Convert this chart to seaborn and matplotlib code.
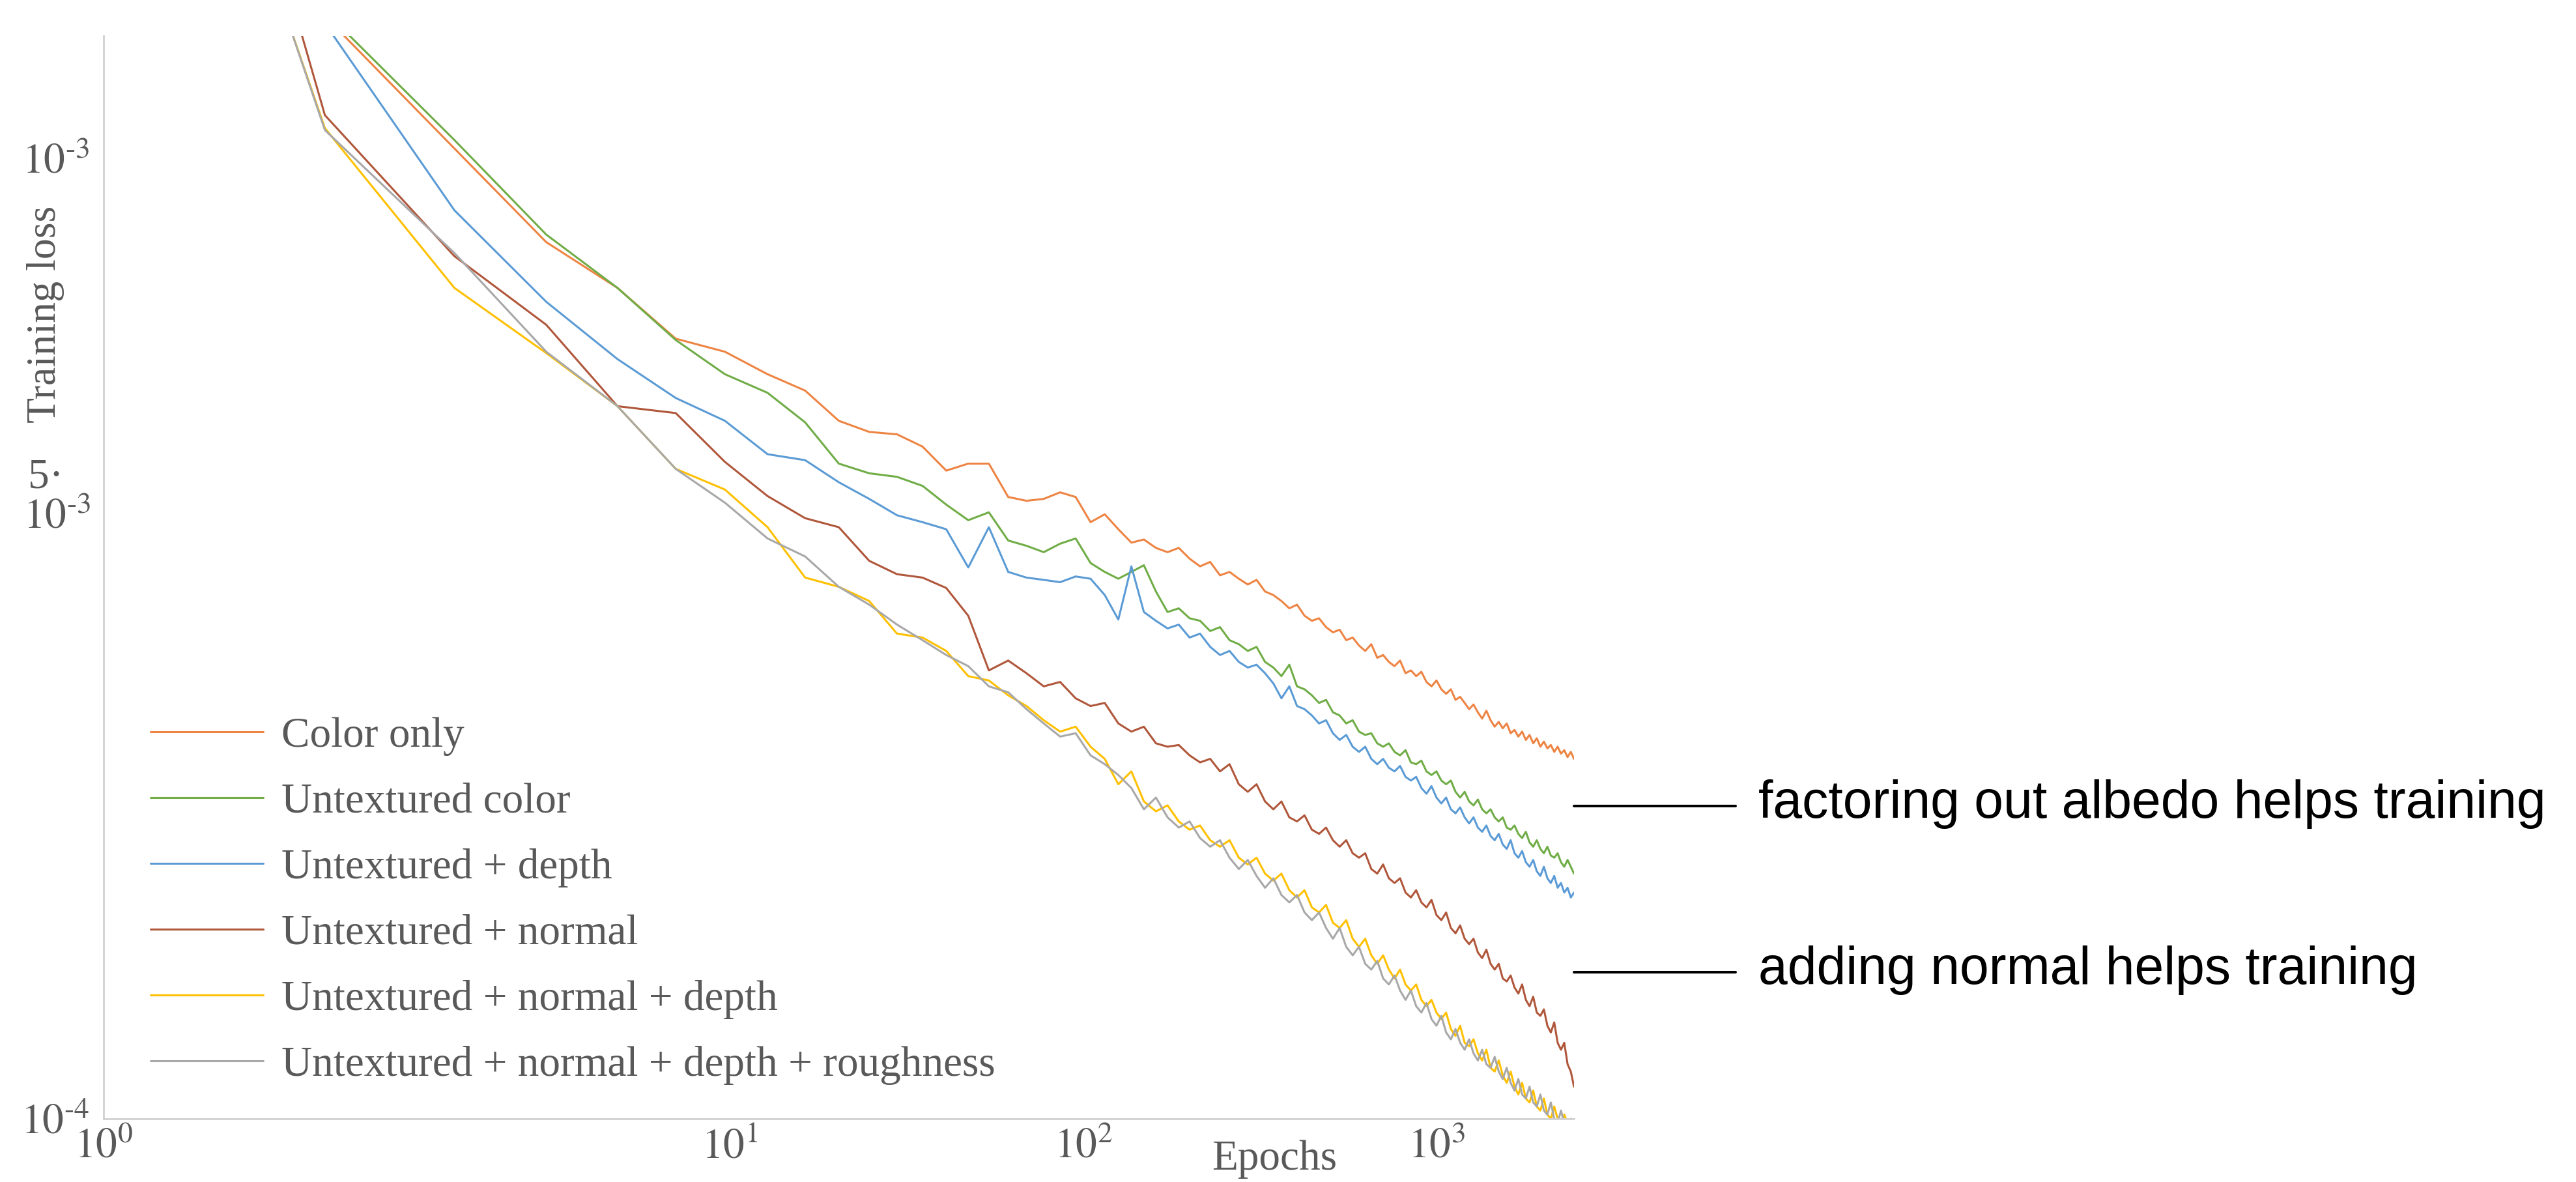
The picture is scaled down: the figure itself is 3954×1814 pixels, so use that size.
import numpy as np
import pandas as pd
import matplotlib
matplotlib.use("Agg")
import matplotlib.pyplot as plt
from matplotlib.lines import Line2D
import seaborn as sns

# training loss per epoch (epoch 1, 2, 3, ... 100), values in units of 1e-4
color_only = [59.6, 14.06, 10.24, 8.18, 7.33, 6.49, 6.29, 5.96, 5.73, 5.33,
              5.19, 5.16, 5.01, 4.73, 4.81, 4.81, 4.44, 4.40, 4.42, 4.49,
              4.44, 4.18, 4.26, 4.11, 3.98, 4.01, 3.93, 3.89, 3.93, 3.83,
              3.76, 3.80, 3.68, 3.71, 3.65, 3.60, 3.64, 3.54, 3.51, 3.46,
              3.40, 3.43, 3.34, 3.30, 3.32, 3.25, 3.21, 3.23, 3.15, 3.17,
              3.11, 3.07, 3.12, 3.02, 3.04, 2.99, 2.96, 3.00, 2.91, 2.93,
              2.89, 2.92, 2.85, 2.82, 2.86, 2.80, 2.77, 2.80, 2.73, 2.75,
              2.71, 2.67, 2.70, 2.65, 2.61, 2.66, 2.60, 2.56, 2.59, 2.55,
              2.58, 2.52, 2.54, 2.50, 2.53, 2.48, 2.51, 2.46, 2.49, 2.44,
              2.47, 2.43, 2.45, 2.41, 2.44, 2.40, 2.42, 2.38, 2.41, 2.37]
untextured_color = [59.6, 14.23, 10.45, 8.33, 7.33, 6.47, 5.96, 5.70, 5.31, 4.81,
                    4.70, 4.66, 4.56, 4.36, 4.20, 4.28, 4.00, 3.95, 3.89, 3.97,
                    4.02, 3.79, 3.71, 3.65, 3.71, 3.77, 3.54, 3.37, 3.40, 3.32,
                    3.30, 3.22, 3.25, 3.15, 3.12, 3.07, 3.10, 2.99, 2.95, 2.89,
                    2.97, 2.82, 2.80, 2.76, 2.71, 2.73, 2.65, 2.63, 2.58, 2.60,
                    2.53, 2.51, 2.52, 2.46, 2.44, 2.46, 2.41, 2.39, 2.42, 2.35,
                    2.34, 2.36, 2.30, 2.28, 2.30, 2.25, 2.23, 2.25, 2.19, 2.16,
                    2.19, 2.14, 2.12, 2.15, 2.10, 2.08, 2.10, 2.06, 2.04, 2.06,
                    2.01, 2.00, 2.02, 1.98, 1.96, 1.99, 1.94, 1.92, 1.95, 1.91,
                    1.89, 1.92, 1.88, 1.87, 1.89, 1.85, 1.83, 1.86, 1.83, 1.80]
untextured_depth = [95.3, 13.82, 8.83, 7.09, 6.18, 5.63, 5.33, 4.92, 4.85, 4.60,
                    4.42, 4.25, 4.18, 4.11, 3.75, 4.13, 3.71, 3.66, 3.64, 3.62,
                    3.67, 3.65, 3.51, 3.31, 3.76, 3.37, 3.30, 3.24, 3.27, 3.17,
                    3.20, 3.10, 3.04, 3.07, 2.99, 2.95, 2.97, 2.91, 2.84, 2.74,
                    2.82, 2.69, 2.67, 2.63, 2.58, 2.60, 2.52, 2.48, 2.51, 2.44,
                    2.41, 2.44, 2.37, 2.34, 2.37, 2.32, 2.30, 2.33, 2.27, 2.25,
                    2.27, 2.21, 2.18, 2.22, 2.16, 2.13, 2.16, 2.10, 2.08, 2.11,
                    2.06, 2.03, 2.06, 2.01, 1.99, 2.02, 1.97, 1.95, 1.98, 1.93,
                    1.91, 1.95, 1.89, 1.87, 1.90, 1.85, 1.83, 1.86, 1.81, 1.79,
                    1.83, 1.78, 1.76, 1.79, 1.74, 1.76, 1.72, 1.74, 1.70, 1.72]
untextured_normal = [70.0, 11.09, 7.91, 6.71, 5.52, 5.43, 4.83, 4.45, 4.22, 4.13,
                     3.81, 3.69, 3.66, 3.57, 3.34, 2.93, 3.00, 2.91, 2.82, 2.85,
                     2.74, 2.69, 2.71, 2.58, 2.53, 2.56, 2.46, 2.44, 2.45, 2.39,
                     2.35, 2.37, 2.30, 2.34, 2.23, 2.19, 2.23, 2.14, 2.10, 2.14,
                     2.06, 2.04, 2.07, 2.00, 1.98, 2.01, 1.95, 1.92, 1.95, 1.89,
                     1.87, 1.89, 1.82, 1.80, 1.84, 1.78, 1.76, 1.78, 1.72, 1.70,
                     1.73, 1.68, 1.66, 1.69, 1.63, 1.61, 1.64, 1.58, 1.56, 1.59,
                     1.54, 1.52, 1.54, 1.49, 1.47, 1.50, 1.45, 1.43, 1.45, 1.40,
                     1.39, 1.41, 1.37, 1.35, 1.38, 1.33, 1.31, 1.34, 1.29, 1.28,
                     1.30, 1.25, 1.23, 1.26, 1.20, 1.18, 1.20, 1.14, 1.12, 1.08]
untextured_normal_depth = [50.1, 10.75, 7.33, 6.27, 5.52, 4.75, 4.52, 4.13, 3.66, 3.58,
                           3.46, 3.20, 3.17, 3.07, 2.89, 2.86, 2.76, 2.69, 2.60, 2.53,
                           2.56, 2.44, 2.37, 2.23, 2.30, 2.14, 2.09, 2.12, 2.04, 2.00,
                           2.02, 1.95, 1.92, 1.95, 1.87, 1.84, 1.87, 1.80, 1.77, 1.80,
                           1.73, 1.70, 1.73, 1.66, 1.64, 1.67, 1.60, 1.58, 1.61, 1.54,
                           1.51, 1.54, 1.48, 1.45, 1.48, 1.43, 1.40, 1.43, 1.38, 1.36,
                           1.38, 1.33, 1.31, 1.33, 1.29, 1.27, 1.29, 1.24, 1.22, 1.25,
                           1.20, 1.19, 1.21, 1.17, 1.15, 1.18, 1.13, 1.12, 1.15, 1.11,
                           1.09, 1.12, 1.08, 1.06, 1.09, 1.05, 1.04, 1.07, 1.03, 1.02,
                           1.05, 1.01, 1.00, 1.03, 1.00, 0.99, 1.01, 0.99, 0.98, 0.97]
untextured_all = [51.0, 10.70, 7.97, 6.29, 5.52, 4.75, 4.38, 4.02, 3.85, 3.58,
                  3.43, 3.27, 3.15, 3.04, 2.96, 2.82, 2.78, 2.67, 2.58, 2.50,
                  2.52, 2.39, 2.34, 2.28, 2.21, 2.10, 2.16, 2.06, 2.01, 2.04,
                  1.96, 1.92, 1.95, 1.87, 1.82, 1.86, 1.79, 1.74, 1.78, 1.71,
                  1.68, 1.71, 1.64, 1.61, 1.64, 1.58, 1.54, 1.58, 1.51, 1.48,
                  1.51, 1.45, 1.43, 1.46, 1.40, 1.38, 1.41, 1.36, 1.33, 1.36,
                  1.31, 1.29, 1.32, 1.27, 1.25, 1.28, 1.23, 1.21, 1.24, 1.20,
                  1.18, 1.21, 1.17, 1.15, 1.18, 1.14, 1.13, 1.16, 1.12, 1.10,
                  1.13, 1.09, 1.07, 1.10, 1.06, 1.05, 1.08, 1.04, 1.03, 1.06,
                  1.02, 1.01, 1.04, 1.00, 0.99, 1.02, 0.99, 0.98, 1.00, 0.98]

series_names = ["Color only", "Untextured color", "Untextured + depth",
                "Untextured + normal", "Untextured + normal + depth",
                "Untextured + normal + depth + roughness"]
series_values = [color_only, untextured_color, untextured_depth,
                 untextured_normal, untextured_normal_depth, untextured_all]
series_colors = ["#EE8443", "#70AD47", "#5B9BD5", "#B0573B", "#FFC000", "#A8A8A8"]

x_tick_labels = [r"$10^{0}$", r"$10^{1}$", r"$10^{2}$", r"$10^{3}$"]
y_tick_labels = [r"$10^{\text{-}4}$", "", r"$10^{\text{-}3}$"]
annotations = ["factoring out albedo helps training", "adding normal helps training"]

frames = []
for name, vals in zip(series_names, series_values):
    frames.append(pd.DataFrame({"epoch": np.arange(1, len(vals) + 1),
                                "loss": np.array(vals) * 1e-4,
                                "series": name}))
df = pd.concat(frames, ignore_index=True)

sns.set_style("white")
plt.rcParams["mathtext.fontset"] = "stix"
plt.rcParams["font.family"] = ["Liberation Serif", "DejaVu Serif"]

W, H = 3955, 1814
fig = plt.figure(figsize=(W / 100, H / 100), dpi=100)
# axes box in pixels: left 159, right 2416, top 55, bottom 1717
ax = fig.add_axes([159 / W, 1 - 1717 / H, (2416 - 159) / W, (1717 - 55) / H])

sns.lineplot(data=df, x="epoch", y="loss", hue="series", hue_order=series_names,
             palette=dict(zip(series_names, series_colors)), linewidth=2.2,
             ax=ax, sort=False)

ax.set_xscale("log")
ax.set_yscale("log")
ax.set_xlim(1, 100)
ax.set_ylim(1e-4, 10 ** (-4 + 1662 / 1474))

# tick positions
ax.set_xticks([1, 7.106, 21.51, 65.0])
ax.set_xticklabels(x_tick_labels)
ax.set_yticks([1e-4, 4.636e-4, 1e-3])
ax.set_yticklabels(y_tick_labels)
ax.minorticks_off()

grey = "#595959"
ax.tick_params(axis="x", direction="in", length=23, width=1.1, color="#c8c8c8",
               labelsize=47, labelcolor=grey, pad=10)
ax.tick_params(axis="y", direction="in", length=10, width=1.1, color="#c8c8c8",
               labelsize=47, labelcolor=grey, pad=16)
for side in ["top", "right"]:
    ax.spines[side].set_visible(False)
for side in ["left", "bottom"]:
    ax.spines[side].set_color("#d0d0d0")
    ax.spines[side].set_linewidth(2)
ax.set_xlabel("")
ax.set_ylabel("")

# odd two-line label of the middle y tick
fig.text(43 / W, 1 - 733 / H, "5·", fontsize=47, color=grey, ha="left", va="center")
fig.text(36 / W, 1 - 795 / H, r"$10^{\text{-}3}$", fontsize=47, color=grey,
         ha="left", va="center")

fig.text(70 / W, 1 - 482 / H, "Training loss", rotation=90, fontsize=46, color=grey,
         ha="center", va="center")
fig.text(1956 / W, 1 - 1795 / H, "Epochs", fontsize=47, color=grey, ha="center", va="baseline")

handles, labels = ax.get_legend_handles_labels()
leg = ax.legend(handles, labels, loc="upper left", bbox_to_anchor=(231 / W, 1 - 1100 / H),
                bbox_transform=fig.transFigure, frameon=False, fontsize=47,
                handlelength=2.65, handletextpad=0.43, labelspacing=0.63,
                borderpad=0, borderaxespad=0)
for t in leg.get_texts():
    t.set_color(grey)
for h in leg.get_lines():
    h.set_linewidth(2.2)

# callouts on the right
for y_line, y_base, txt in zip([1237, 1492], [1255, 1510], annotations):
    fig.add_artist(Line2D([2416 / W, 2664 / W], [1 - y_line / H, 1 - y_line / H],
                          color="black", linewidth=2.9, transform=fig.transFigure))
    fig.text(2699 / W, 1 - y_base / H, txt, fontsize=58, color="black",
             family="Liberation Sans", ha="left", va="baseline")

fig.savefig("out.png", dpi=100, facecolor="white")
